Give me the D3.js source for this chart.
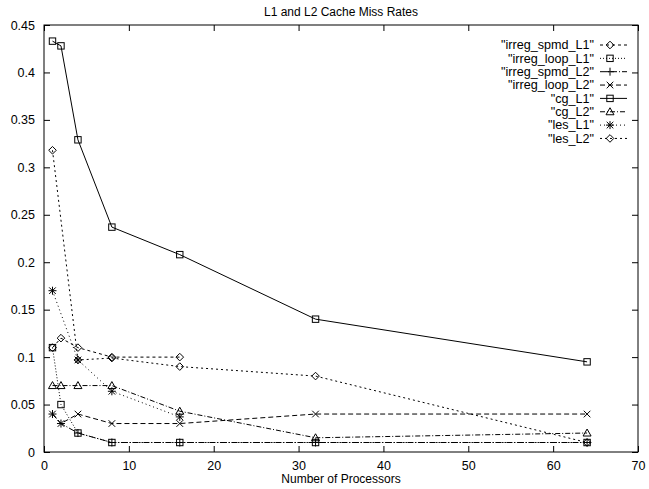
<!DOCTYPE html>
<html><head><meta charset="utf-8">
<script src="https://cdn.jsdelivr.net/npm/d3@7"></script>
<style>body{margin:0;background:#fff}svg{display:block}text{font-family:"Liberation Sans",Arial,sans-serif;fill:#000}</style>
</head><body>
<script>
const title = "L1 and L2 Cache Miss Rates";
const xLabel = "Number of Processors";
const xTicks = [0,10,20,30,40,50,60,70];
const yTicks = [0,0.05,0.1,0.15,0.2,0.25,0.3,0.35,0.4,0.45];
const seriesNames = ['"irreg_spmd_L1"','"irreg_loop_L1"','"irreg_spmd_L2"','"irreg_loop_L2"','"cg_L1"','"cg_L2"','"les_L1"','"les_L2"'];
const irregSpmdL1X = [1,2,4,8,16];
const irregSpmdL1Y = [0.11,0.12,0.11,0.10,0.10];
const irregLoopL1X = [1,2,4,8,16,32,64];
const irregLoopL1Y = [0.11,0.05,0.02,0.01,0.01,0.01,0.01];
const irregSpmdL2X = [1,2,4,8,16,32,64];
const irregSpmdL2Y = [0.04,0.03,0.02,0.01,0.01,0.01,0.01];
const irregLoopL2X = [1,2,4,8,16,32,64];
const irregLoopL2Y = [0.04,0.03,0.04,0.03,0.03,0.04,0.04];
const cgL1X = [1,2,4,8,16,32,64];
const cgL1Y = [0.433,0.428,0.329,0.237,0.208,0.140,0.095];
const cgL2X = [1,2,4,8,16,32,64];
const cgL2Y = [0.07,0.07,0.07,0.07,0.043,0.015,0.02];
const lesL1X = [1,4,8,16];
const lesL1Y = [0.17,0.097,0.064,0.037];
const lesL2X = [1,4,8,16,32,64];
const lesL2Y = [0.318,0.097,0.099,0.09,0.08,0.01];

const xs = [irregSpmdL1X,irregLoopL1X,irregSpmdL2X,irregLoopL2X,cgL1X,cgL2X,lesL1X,lesL2X];
const ys = [irregSpmdL1Y,irregLoopL1Y,irregSpmdL2Y,irregLoopL2Y,cgL1Y,cgL2Y,lesL1Y,lesL2Y];
const dashes = ["3,3","1,2","6,2,1,2","5,3",null,"5,2,1,2","1,3","2,3"];
const symbols = ["diamond","square","plus","cross","square","triangle","star","diamond"];

const W=649,H=489, L=44, R=638, T=25, B=452;
const svg = d3.select("body").append("svg").attr("width",W).attr("height",H);
const x = d3.scaleLinear().domain([0,70]).range([L,R]);
const y = d3.scaleLinear().domain([0,0.45]).range([B,T]);

svg.append("text").attr("x",(L+R)/2).attr("y",16).attr("text-anchor","middle").attr("font-size",12).text(title);
svg.append("text").attr("x",(L+R)/2).attr("y",483).attr("text-anchor","middle").attr("font-size",12).text(xLabel);

// axes with inward ticks
const tk = 6;
const gx = svg.append("g").attr("transform",`translate(0,${B})`).call(d3.axisBottom(x).tickValues(xTicks).tickSize(-tk).tickPadding(9).tickFormat(d3.format("d")));
const gxt = svg.append("g").attr("transform",`translate(0,${T})`).call(d3.axisTop(x).tickValues(xTicks).tickSize(-tk).tickFormat(""));
const gy = svg.append("g").attr("transform",`translate(${L},0)`).call(d3.axisLeft(y).tickValues(yTicks).tickSize(-tk).tickPadding(9).tickFormat(d=>d3.format("")(+d.toFixed(2))));
const gyr = svg.append("g").attr("transform",`translate(${R},0)`).call(d3.axisRight(y).tickValues(yTicks).tickSize(-tk).tickFormat(""));
[gx,gxt,gy,gyr].forEach(g=>{g.select(".domain").remove();g.selectAll("line").attr("stroke","#000");g.selectAll("text").attr("font-size",12.5).attr("font-family","Liberation Sans, Arial, sans-serif");});
svg.append("rect").attr("x",L).attr("y",T).attr("width",R-L).attr("height",B-T).attr("fill","none").attr("stroke","#000").attr("stroke-width",1);

function drawSym(g, type, cx, cy){
  const s=3.2;
  const st = {fill:"none",stroke:"#000","stroke-width":1};
  let el;
  if(type==="diamond") el=g.append("path").attr("d",`M${cx},${cy-3.8}L${cx+3.8},${cy}L${cx},${cy+3.8}L${cx-3.8},${cy}Z`);
  else if(type==="square") el=g.append("rect").attr("x",cx-s).attr("y",cy-s).attr("width",2*s).attr("height",2*s);
  else if(type==="triangle") el=g.append("path").attr("d",`M${cx},${cy-4}L${cx+4},${cy+3}L${cx-4},${cy+3}Z`);
  else if(type==="plus") el=g.append("path").attr("d",`M${cx-4},${cy}H${cx+4}M${cx},${cy-4}V${cy+4}`);
  else if(type==="cross") el=g.append("path").attr("d",`M${cx-3.3},${cy-3.3}L${cx+3.3},${cy+3.3}M${cx-3.3},${cy+3.3}L${cx+3.3},${cy-3.3}`);
  else if(type==="star") el=g.append("path").attr("d",`M${cx-3.3},${cy-3.3}L${cx+3.3},${cy+3.3}M${cx-3.3},${cy+3.3}L${cx+3.3},${cy-3.3}M${cx-4},${cy}H${cx+4}M${cx},${cy-4}V${cy+4}`);
  Object.entries(st).forEach(([k,v])=>el.attr(k,v));
}

const line = d3.line().x(d=>x(d[0])).y(d=>y(d[1]));
const plot = svg.append("g");
seriesNames.forEach((name,i)=>{
  const pts = xs[i].map((v,j)=>[v,ys[i][j]]);
  const p = plot.append("path").attr("d",line(pts)).attr("fill","none").attr("stroke","#000").attr("stroke-width",1);
  if(dashes[i]) p.attr("stroke-dasharray",dashes[i]);
  const g = plot.append("g");
  pts.forEach(d=>drawSym(g,symbols[i],x(d[0]),y(d[1])));
});

// legend
const leg = svg.append("g");
seriesNames.forEach((name,i)=>{
  const yy = 45 + i*13.35;
  leg.append("text").attr("x",594).attr("y",yy+4.3).attr("text-anchor","end").attr("font-size",12.6).text(name);
  const p = leg.append("line").attr("x1",600).attr("x2",627).attr("y1",yy).attr("y2",yy).attr("stroke","#000").attr("stroke-width",1);
  if(dashes[i]) p.attr("stroke-dasharray",dashes[i]);
  drawSym(leg,symbols[i],610,yy);
});
</script>
</body></html>
